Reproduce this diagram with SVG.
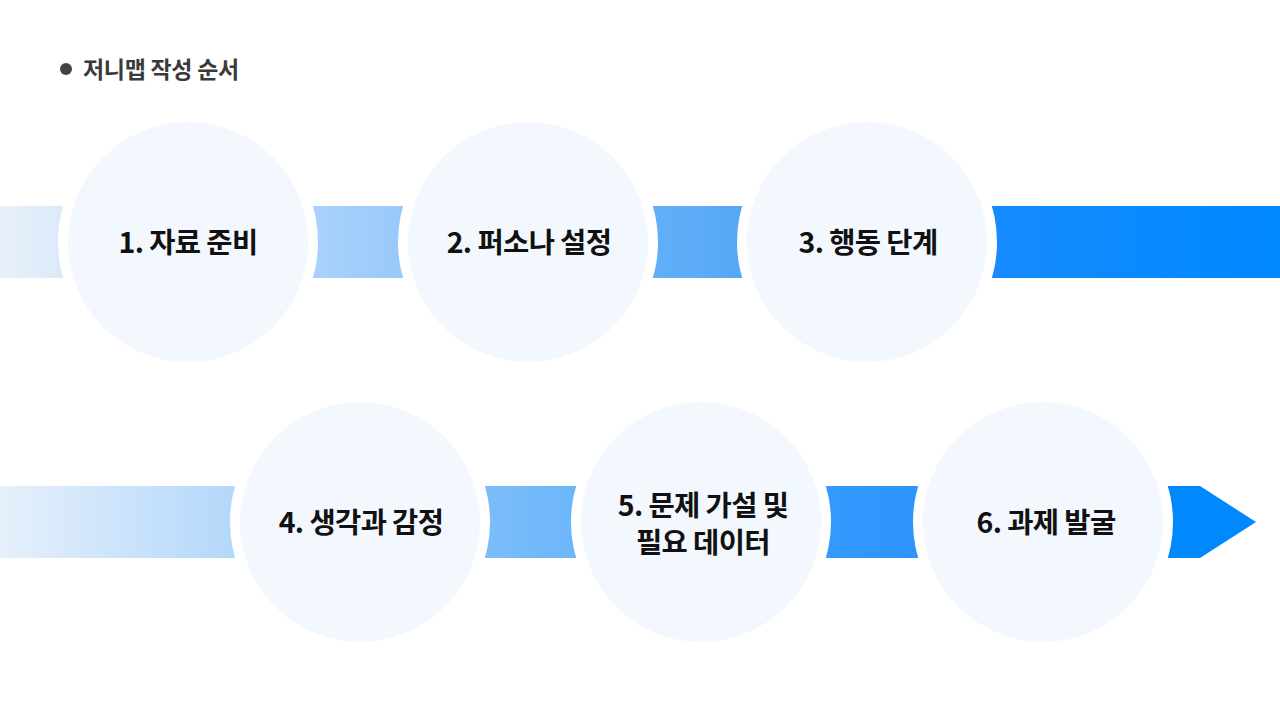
<svg xmlns="http://www.w3.org/2000/svg" width="1280" height="704" viewBox="0 0 1280 704">
<defs>
<linearGradient id="g1" gradientUnits="userSpaceOnUse" x1="0" y1="0" x2="1280" y2="0">
<stop offset="0" stop-color="#e8f1fb"/>
<stop offset="0.05" stop-color="#dbe9f9"/>
<stop offset="0.25" stop-color="#a9d1fb"/>
<stop offset="0.32" stop-color="#96c8fb"/>
<stop offset="0.51" stop-color="#62aff8"/>
<stop offset="0.58" stop-color="#55a8f8"/>
<stop offset="0.78" stop-color="#168bff"/>
<stop offset="1" stop-color="#0088ff"/>
</linearGradient>
<linearGradient id="g2" gradientUnits="userSpaceOnUse" x1="0" y1="0" x2="1280" y2="0">
<stop offset="0" stop-color="#e6f0fa"/>
<stop offset="0.18" stop-color="#b4d8fb"/>
<stop offset="0.38" stop-color="#7cbdf9"/>
<stop offset="0.45" stop-color="#6bb6fb"/>
<stop offset="0.65" stop-color="#3499fd"/>
<stop offset="0.72" stop-color="#2b94fd"/>
<stop offset="0.9" stop-color="#0088ff"/>
<stop offset="1" stop-color="#0088ff"/>
</linearGradient>
</defs>
<style>
.halo{fill:#ffffff}
.node{fill:#f3f7fe}
.lbl{font-family:"Noto Sans CJK KR","Noto Sans",sans-serif;font-weight:700;font-size:28.5px;fill:#111;text-anchor:middle;letter-spacing:-0.6px}
.title{font-family:"Noto Sans CJK KR","Noto Sans",sans-serif;font-weight:700;font-size:23px;fill:#3a3a3a;letter-spacing:-0.3px}
</style>
<rect width="1280" height="704" fill="#ffffff"/>
<g id="header">
<circle cx="66" cy="69" r="6" fill="#444"/>
<text class="title" x="83" y="78">저니맵 작성 순서</text>
</g>
<g id="connectors">
<rect x="0" y="206" width="1280" height="72" fill="url(#g1)"/>
<path d="M0 486 H1200 L1256 522 L1200 558 H0 Z" fill="url(#g2)"/>
</g>
<g id="halos">
<circle class="halo" cx="188" cy="242" r="130"/>
<circle class="halo" cx="528" cy="242" r="130"/>
<circle class="halo" cx="867" cy="242" r="130"/>
<circle class="halo" cx="360" cy="522" r="130"/>
<circle class="halo" cx="701" cy="522" r="130"/>
<circle class="halo" cx="1043" cy="522" r="130"/>
</g>
<g id="node1"><circle class="node" cx="188" cy="242" r="120"/><text class="lbl" x="188" y="253">1. 자료 준비</text></g>
<g id="node2"><circle class="node" cx="528" cy="242" r="120"/><text class="lbl" x="529" y="253">2. 퍼소나 설정</text></g>
<g id="node3"><circle class="node" cx="867" cy="242" r="120"/><text class="lbl" x="868" y="253">3. 행동 단계</text></g>
<g id="node4"><circle class="node" cx="360" cy="522" r="120"/><text class="lbl" x="361" y="533">4. 생각과 감정</text></g>
<g id="node5"><circle class="node" cx="701" cy="522" r="120"/><text class="lbl" x="703" y="516">5. 문제 가설 및</text><text class="lbl" x="703" y="553">필요 데이터</text></g>
<g id="node6"><circle class="node" cx="1043" cy="522" r="120"/><text class="lbl" x="1046" y="533">6. 과제 발굴</text></g>
</svg>
